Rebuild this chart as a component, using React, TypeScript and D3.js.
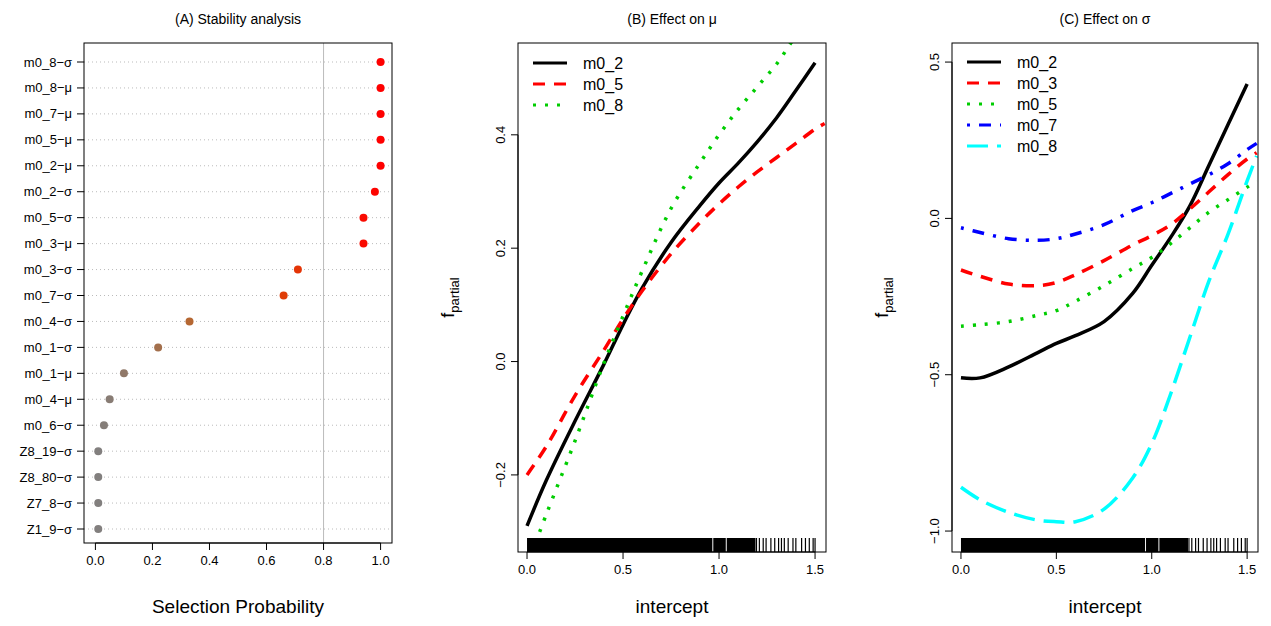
import * as d3 from "d3";

const stabLabels = ["m0_8−σ", "m0_8−μ", "m0_7−μ", "m0_5−μ", "m0_2−μ", "m0_2−σ", "m0_5−σ", "m0_3−μ", "m0_3−σ", "m0_7−σ", "m0_4−σ", "m0_1−σ", "m0_1−μ", "m0_4−μ", "m0_6−σ", "Z8_19−σ", "Z8_80−σ", "Z7_8−σ", "Z1_9−σ"];
const stabProb = [1, 1, 1, 1, 1, 0.98, 0.94, 0.94, 0.71, 0.66, 0.33, 0.22, 0.1, 0.05, 0.03, 0.01, 0.01, 0.01, 0.01];
const probTicks = [0, 0.2, 0.4, 0.6, 0.8, 1.0];

const xGrid = [0, 0.1, 0.25, 0.4, 0.5, 0.6, 0.75, 0.9, 1.0, 1.1, 1.2, 1.3, 1.4, 1.5, 1.55];
const muM02 = [-0.29, -0.21, -0.105, -0.005, 0.065, 0.13, 0.21, 0.275, 0.315, 0.35, 0.388, 0.43, 0.478, 0.527, null];
const muM05 = [-0.2, -0.15, -0.06, 0.02, 0.075, 0.125, 0.19, 0.245, 0.278, 0.308, 0.335, 0.36, 0.385, 0.41, 0.42];
const muM08 = [-0.36, -0.27, -0.14, -0.003, 0.08, 0.16, 0.27, 0.35, 0.4, 0.445, 0.485, 0.525, 0.575, 0.62, null];

const sgM02 = [-0.51, -0.51, -0.475, -0.43, -0.4, -0.375, -0.33, -0.24, -0.15, -0.06, 0.04, 0.17, 0.3, 0.43, null];
const sgM03 = [-0.165, -0.185, -0.21, -0.215, -0.205, -0.18, -0.135, -0.085, -0.055, -0.02, 0.03, 0.085, 0.14, 0.19, 0.21];
const sgM05 = [-0.345, -0.34, -0.33, -0.31, -0.295, -0.265, -0.215, -0.16, -0.125, -0.08, -0.03, 0.02, 0.06, 0.1, 0.12];
const sgM07 = [-0.03, -0.045, -0.065, -0.07, -0.065, -0.05, -0.02, 0.025, 0.05, 0.08, 0.11, 0.14, 0.175, 0.22, 0.24];
const sgM08 = [-0.86, -0.9, -0.94, -0.965, -0.97, -0.97, -0.93, -0.83, -0.72, -0.56, -0.38, -0.2, -0.05, 0.12, 0.2];

const xTicks = [0, 0.5, 1.0, 1.5];
const muTicks = [-0.2, 0, 0.2, 0.4];
const sgTicks = [-1.0, -0.5, 0, 0.5];

const rugDense = [[0, 0.965], [0.97, 1.035], [1.04, 1.19]];
const rugSparse = [1.195, 1.21, 1.23, 1.245, 1.27, 1.29, 1.31, 1.325, 1.34, 1.36, 1.385, 1.4, 1.43, 1.45, 1.47, 1.49, 1.5];

const font = "Liberation Sans, Arial, sans-serif";

type Series = { name: string; vals: (number | null)[]; color: string; dash: string };

const muSeries: Series[] = [
  { name: "m0_2", vals: muM02, color: "#000", dash: "" },
  { name: "m0_5", vals: muM05, color: "#ff0000", dash: "12,9" },
  { name: "m0_8", vals: muM08, color: "#00cd00", dash: "3,9" },
];
const sgSeries: Series[] = [
  { name: "m0_2", vals: sgM02, color: "#000", dash: "" },
  { name: "m0_3", vals: sgM03, color: "#ff0000", dash: "12,9" },
  { name: "m0_5", vals: sgM05, color: "#00cd00", dash: "3,9" },
  { name: "m0_7", vals: sgM07, color: "#0000ff", dash: "3,9,12,9" },
  { name: "m0_8", vals: sgM08, color: "#00ffff", dash: "21,9" },
];

const fmt = (v: number) => v.toFixed(1);

function StabilityPanel() {
  const L = 84, R = 392, T = 43, B = 543;
  const x = d3.scaleLinear().domain([-0.04, 1.04]).range([L, R]);
  const y = d3.scalePoint<string>().domain(stabLabels).range([62, 529]);
  const col = d3.scaleLinear<string>().domain([0, 0.5, 1]).range(["#808080", "#d05a0a", "#ff0000"]);
  return (
    <g fontFamily={font}>
      <text x={(L + R) / 2} y={24} textAnchor="middle" fontSize={14}>(A) Stability analysis</text>
      {stabLabels.map((l) => (
        <g key={l}>
          <line x1={L} x2={R} y1={y(l)} y2={y(l)} stroke="#bbb" strokeDasharray="1,3" />
          <line x1={L - 7} x2={L} y1={y(l)} y2={y(l)} stroke="#000" />
          <text x={L - 12} y={y(l)! + 4.5} textAnchor="end" fontSize={13}>{l}</text>
        </g>
      ))}
      <line x1={x(0.8)} x2={x(0.8)} y1={T} y2={B} stroke="#bbb" />
      {stabLabels.map((l, i) => (
        <circle key={l} cx={x(stabProb[i])} cy={y(l)} r={4} fill={col(stabProb[i])} />
      ))}
      <rect x={L} y={T} width={R - L} height={B - T} fill="none" stroke="#000" />
      {probTicks.map((t) => (
        <g key={t}>
          <line x1={x(t)} x2={x(t)} y1={B} y2={B + 7} stroke="#000" />
          <text x={x(t)} y={B + 22} textAnchor="middle" fontSize={13}>{fmt(t)}</text>
        </g>
      ))}
      <line x1={x(0)} x2={x(1)} y1={B} y2={B} stroke="#000" />
      <text x={(L + R) / 2} y={613} textAnchor="middle" fontSize={19}>Selection Probability</text>
    </g>
  );
}

function EffectPanel({ L, R, title, ydom, yTicks, series, legendY }: { L: number; R: number; title: string; ydom: [number, number]; yTicks: number[]; series: Series[]; legendY: number }) {
  const T = 43, B = 552;
  const x = d3.scaleLinear().domain([-0.047, 1.557]).range([L, R]);
  const y = d3.scaleLinear().domain(ydom).range([B, T]);
  const clipId = "clip" + L;
  const line = d3.line<[number, number | null]>()
    .defined((d) => d[1] !== null)
    .x((d) => x(d[0]))
    .y((d) => y(d[1] as number))
    .curve(d3.curveCatmullRom.alpha(0.5));
  return (
    <g fontFamily={font}>
      <defs>
        <clipPath id={clipId}><rect x={L} y={T} width={R - L} height={B - T} /></clipPath>
      </defs>
      <text x={(L + R) / 2} y={24} textAnchor="middle" fontSize={14}>{title}</text>
      <g clipPath={`url(#${clipId})`}>
        {series.map((s) => (
          <path key={s.name} d={line(xGrid.map((xv, i) => [xv, s.vals[i]]))!} fill="none" stroke={s.color} strokeWidth={3.5} strokeDasharray={s.dash} />
        ))}
        {rugDense.map(([a, b]) => (
          <rect key={a} x={x(a)} y={B - 14} width={x(b) - x(a)} height={14} fill="#000" />
        ))}
        {rugSparse.map((r) => (
          <line key={r} x1={x(r)} x2={x(r)} y1={B - 14} y2={B} stroke="#000" strokeWidth={1.2} />
        ))}
      </g>
      <rect x={L} y={T} width={R - L} height={B - T} fill="none" stroke="#000" />
      {xTicks.map((t) => (
        <g key={t}>
          <line x1={x(t)} x2={x(t)} y1={B} y2={B + 7} stroke="#000" />
          <text x={x(t)} y={B + 22} textAnchor="middle" fontSize={13}>{fmt(t)}</text>
        </g>
      ))}
      <line x1={x(0)} x2={x(1.5)} y1={B} y2={B} stroke="#000" />
      {yTicks.map((t) => (
        <g key={t}>
          <line x1={L - 7} x2={L} y1={y(t)} y2={y(t)} stroke="#000" />
          <text transform={`translate(${L - 13},${y(t)}) rotate(-90)`} textAnchor="middle" fontSize={13}>{t < 0 ? "−" + fmt(-t) : fmt(t)}</text>
        </g>
      ))}
      <line x1={L} x2={L} y1={y(yTicks[0])} y2={y(yTicks[yTicks.length - 1])} stroke="#000" />
      <text transform={`translate(${L - 64},${(T + B) / 2}) rotate(-90)`} textAnchor="middle" fontSize={18}>
        f<tspan fontSize={13} dy={5}>partial</tspan>
      </text>
      <text x={(L + R) / 2} y={613} textAnchor="middle" fontSize={19}>intercept</text>
      {series.map((s, i) => (
        <g key={s.name}>
          <line x1={L + 15} x2={L + 49} y1={legendY + i * 21} y2={legendY + i * 21} stroke={s.color} strokeWidth={3} strokeDasharray={s.dash} />
          <text x={L + 65} y={legendY + i * 21 + 6} fontSize={16}>{s.name}</text>
        </g>
      ))}
    </g>
  );
}

export default function App() {
  return (
    <svg width={1271} height={626} style={{ display: "block", position: "absolute", left: 0, top: 0, background: "#fff" }}>
      <StabilityPanel />
      <EffectPanel L={518} R={826} title="(B) Effect on μ" ydom={[-0.336, 0.562]} yTicks={muTicks} series={muSeries} legendY={63} />
      <EffectPanel L={952} R={1258} title="(C) Effect on σ" ydom={[-1.067, 0.561]} yTicks={sgTicks} series={sgSeries} legendY={62} />
    </svg>
  );
}
